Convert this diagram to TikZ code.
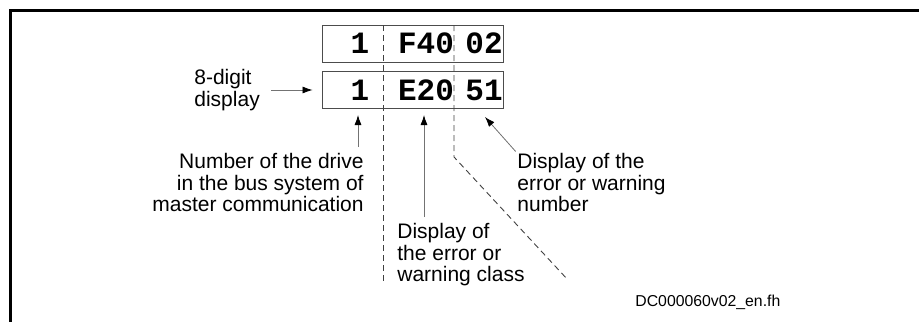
\documentclass[tikz,border=0pt]{standalone}
\usepackage{fontspec}
\setmainfont{Liberation Sans}
\newfontfamily\dispfont{Liberation Mono}
\usetikzlibrary{arrows.meta}

\begin{document}
\begin{tikzpicture}[x=1pt, y=-1pt, thick,
        label text/.style={align=left, inner sep=0pt, font=\fontsize{21}{21.5}\selectfont},
        digit box/.style={draw=black!70, line width=0.9pt, minimum width=181pt, minimum height=37pt, inner sep=0pt},
        digits/.style={inner sep=0pt, anchor=base, font=\dispfont\bfseries\fontsize{31}{31}\selectfont},
        pointer/.style={->, draw=black!55, line width=0.8pt, >={Latex[length=10pt, width=7pt, color=black]}},
        divider/.style={draw=black!75, line width=0.9pt, dash pattern=on 6pt off 4pt}]

    \useasboundingbox (0,0) rectangle (919,322);

    % Frame
    \draw[line width=3pt] (919,10.5) -- (10.5,10.5) -- (10.5,322);

    % Display
    \node[digit box] (top) at (412.5,43.5) {};
    \node[digit box] (low) at (412.5,89.5) {};
    \node[digits] (topA) at (360,53) {1};
    \node[digits] (topB) at (426,53) {F40};
    \node[digits] (topC) at (484,53) {02};
    \node[digits] (lowA) at (360,100) {1};
    \node[digits] (lowB) at (426,100) {E20};
    \node[digits] (lowC) at (484,100) {51};

    % Dividers
    \coordinate (cutA) at (383,25);
    \coordinate (cutB) at (454,25);
    \draw[divider] (cutA) -- (383,282);
    \draw[divider] (cutB) -- (454,157) -- (568,280);

    % Labels
    \node[label text, anchor=west] (disp) at (194,90) {8-digit\\display};
    \node[label text, align=right, anchor=north east] (drive) at (364,153)
        {Number of the drive\\in the bus system of\\master communication};
    \node[label text, anchor=north west] (class) at (397,223)
        {Display of\\the error or\\warning class};
    \node[label text, anchor=north west] (number) at (517,153)
        {Display of the\\error or warning\\number};
    \node[inner sep=0pt, anchor=base west, font=\fontsize{15.8}{16}\selectfont] (code) at (635,306)
        {DC000060v02\_en.fh};

    % Pointers
    \coordinate (driveTip) at (358,115);
    \coordinate (classTip) at (424,115);
    \coordinate (numberTip) at (485,117);
    \draw[pointer, shorten <=11pt, shorten >=9pt] (disp.east) -- (disp.east -| low.west);
    \draw[pointer, shorten <=6pt] (driveTip |- drive.north) -- (driveTip);
    \draw[pointer, shorten <=6pt] (classTip |- class.north) -- (classTip);
    \draw[pointer, shorten <=2pt] (number.north west) -- (numberTip);
\end{tikzpicture}
\end{document}
